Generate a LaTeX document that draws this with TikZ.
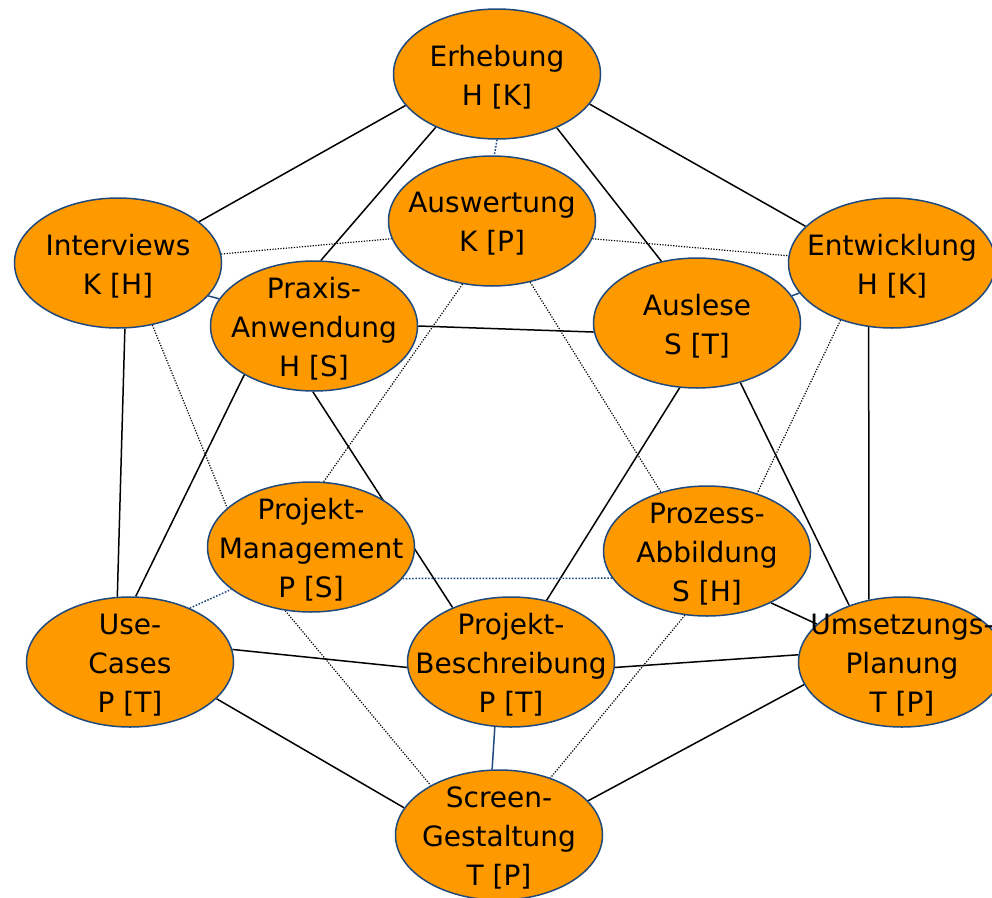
\documentclass[tikz,border=0pt]{standalone}
\usepackage{fontspec}
\setmainfont{DejaVu Sans}
\usetikzlibrary{shapes}
\pgfdeclarelayer{bg}
\pgfsetlayers{bg,main}
\definecolor{knot}{RGB}{255,153,0}
\definecolor{rand}{RGB}{31,73,125}

\begin{document}
\begin{tikzpicture}[x=1pt,y=-1pt,
    ell/.style={ellipse,draw=rand,line width=1.5pt,fill=knot,minimum width=207pt,minimum height=130pt,inner sep=0pt},
    lbl/.style={align=center,font=\fontsize{28}{39}\selectfont,inner sep=0pt,yshift=-3pt},
    kante/.style={line width=1.5pt},
    blau/.style={draw=rand,line width=1.5pt},
    punkt/.style={line width=1.2pt,dash pattern=on 1.2pt off 1.5pt},
    bpunkt/.style={draw=rand,line width=1.5pt,dash pattern=on 1.6pt off 1.6pt}]
  \useasboundingbox (0,0) rectangle (992,897);
  % Knoten
  \node[ell,label={[lbl]center:Erhebung\\H [K]}] (erh) at (497,74) {};
  \node[ell,label={[lbl]center:Auswertung\\K [P]}] (ausw) at (492,221) {};
  \node[ell,label={[lbl]center:Interviews\\K [H]}] (int) at (118,263) {};
  \node[ell,label={[lbl]center:Entwicklung\\H [K]}] (ent) at (892,263) {};
  \node[ell,label={[lbl]center:Praxis-\\Anwendung\\H [S]}] (prax) at (314,326) {};
  \node[ell,label={[lbl]center:Auslese\\S [T]}] (ausl) at (697,323) {};
  \node[ell,label={[lbl]center:Projekt-\\Management\\P [S]}] (pm) at (311,547) {};
  \node[ell,label={[lbl]center:Prozess-\\Abbildung\\S [H]}] (proz) at (707,551) {};
  \node[ell,label={[lbl]center:Use-\\Cases\\P [T]}] (uc) at (130,662) {};
  \node[ell,label={[lbl]center:Projekt-\\Beschreibung\\P [T]}] (pb) at (511,662) {};
  \node[ell,label={[lbl]center:Umsetzungs-\\Planung\\T [P]}] (ums) at (902,662) {};
  \node[ell,label={[lbl]center:Screen-\\Gestaltung\\T [P]}] (scr) at (499,835) {};
  % Kanten
  \begin{pgfonlayer}{bg}
    \draw[kante] (erh.199) -- (int.27);
    \draw[kante] (erh.221) -- (prax.84);
    \draw[kante] (erh.-42) -- (ausl.120);
    \draw[kante] (erh.-18) -- (ent.157);
    \draw[kante] (prax.0) -- (ausl.185);
    \draw[kante] (int.-84) -- (uc.101);
    \draw[kante] (prax.215) -- (uc.85);
    \draw[kante] (prax.-91) -- (pb.137);
    \draw[kante] (ausl.255) -- (pb.60);
    \draw[kante] (ausl.-54) -- (ums.133);
    \draw[kante] (ent.250) -- (ums.118);
    \draw[kante] (uc.7) -- (pb.183);
    \draw[kante] (uc.-23) -- (scr.164);
    \draw[kante] (pb.-3) -- (ums.176);
    \draw[kante] (scr.21) -- (ums.193);
    \draw[kante] (proz.-39) -- (ums.156);
    \draw[blau] (pb.256) -- (scr.96);
    \draw[blau] (int.-20) -- (prax.164);
    \draw[blau] (ausl.16) -- (ent.198);
    % verdeckte Kanten
    \draw[punkt] (int.5) -- (ausw.190);
    \draw[punkt] (ausw.-10) -- (ent.176);
    \draw[punkt] (int.-61) -- (pm.155);
    \draw[punkt] (ausw.245) -- (pm.79);
    \draw[punkt] (ausw.-58) -- (proz.128);
    \draw[punkt] (ent.228) -- (proz.49);
    \draw[punkt] (pm.248) -- (scr.144);
    \draw[punkt] (proz.251) -- (scr.48);
    \draw[bpunkt] (erh.-90) -- (ausw.88);
    \draw[bpunkt] (pm.-19) -- (proz.196);
    \draw[bpunkt] (uc.42) -- (pm.208);
  \end{pgfonlayer}
\end{tikzpicture}
\end{document}
